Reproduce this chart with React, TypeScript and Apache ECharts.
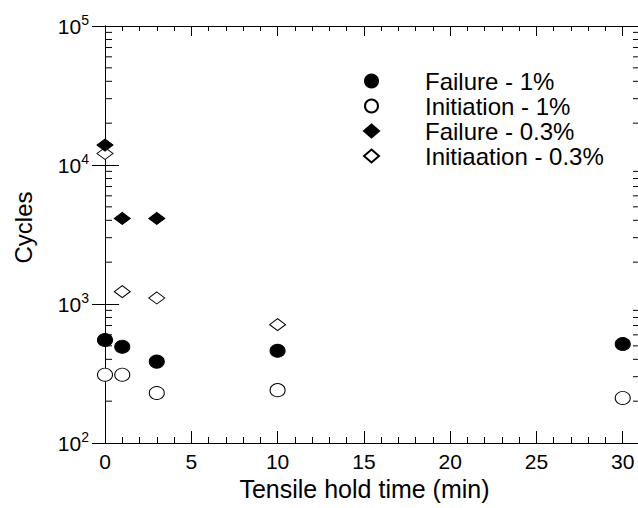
import React, { useEffect, useRef } from "react";
import * as echarts from "echarts";

// ---- data ----
const seriesNames = ["Failure - 1%", "Initiation - 1%", "Failure - 0.3%", "Initiaation - 0.3%"];

const timeFailure1 = [0, 1, 3, 10, 30];
const cyclesFailure1 = [551, 493, 385, 461, 515];

const timeInit1 = [0, 1, 3, 10, 30];
const cyclesInit1 = [310, 310, 229, 240, 211];

const timeFailure03 = [0, 1, 3];
const cyclesFailure03 = [13900, 4130, 4130];

const timeInit03 = [0, 1, 3, 10];
const cyclesInit03 = [12100, 1227, 1105, 710];

// minor tick positions of the log axis (2..9 in each decade)
const yMinorTicks = [
  200, 300, 400, 500, 600, 700, 800, 900,
  2000, 3000, 4000, 5000, 6000, 7000, 8000, 9000,
  20000, 30000, 40000, 50000, 60000, 70000, 80000, 90000,
];

const X_MIN = 0;
const X_MAX = 31;

const FONT = "'Liberation Sans', Arial, Helvetica, sans-serif";

function pairs(xs: number[], ys: number[]) {
  return xs.map((x, i) => [x, ys[i]]);
}

export default function App() {
  const ref = useRef<HTMLDivElement>(null);

  useEffect(() => {
    document.body.style.margin = "0";
    document.body.style.overflow = "hidden";
    if (!ref.current) return;
    const chart = echarts.init(ref.current, null, { renderer: "svg" });

    const xCommon = {
      type: "value" as const,
      min: X_MIN,
      max: X_MAX,
      interval: 5,
      splitLine: { show: false },
      axisLine: { show: true, lineStyle: { color: "#000", width: 1 } },
    };
    const yCommon = {
      type: "log" as const,
      logBase: 10,
      min: 100,
      max: 100000,
      splitLine: { show: false },
    };

    // minor ticks of the log axes drawn as short marks at the frame edges
    const minorTickSeries = (x: number, dir: number) => ({
      type: "scatter" as const,
      silent: true,
      symbol: "rect",
      symbolSize: [7, 1],
      symbolOffset: [3.5 * dir, 0],
      z: 1,
      clip: false,
      itemStyle: { color: "#000", opacity: 1 },
      data: yMinorTicks.map((v) => [x, v]),
    });

    chart.setOption({
      animation: false,
      backgroundColor: "#fff",
      textStyle: { fontFamily: FONT },
      grid: {
        left: 105,
        top: 26,
        width: 535,
        height: 417,
        outerBoundsMode: "none",
        containLabel: false,
      },
      legend: {
        orient: "vertical",
        left: 358,
        top: 64,
        itemWidth: 15,
        itemHeight: 13,
        itemGap: 1,
        data: seriesNames,
        textStyle: {
          fontSize: 24,
          color: "#000",
          lineHeight: 24,
          fontFamily: FONT,
          padding: [0, 0, 0, 41],
        },
        selectedMode: false,
      },
      xAxis: [
        {
          ...xCommon,
          position: "bottom",
          name: "Tensile hold time (min)",
          nameLocation: "middle",
          nameGap: 31,
          nameTextStyle: { fontSize: 25, color: "#000", fontFamily: FONT, padding: [0, 16, 0, 0] },
          axisTick: { show: true, inside: true, length: 12, lineStyle: { color: "#000" } },
          minorTick: { show: true, splitNumber: 5, length: 6, lineStyle: { color: "#000" } },
          axisLabel: { fontSize: 21, color: "#000", margin: 8, showMaxLabel: false, fontFamily: FONT },
        },
        {
          ...xCommon,
          position: "top",
          axisTick: { show: true, inside: true, length: 10, lineStyle: { color: "#000" } },
          minorTick: { show: true, splitNumber: 5, length: 5, lineStyle: { color: "#000" } },
          axisLabel: { show: false },
        },
      ],
      yAxis: [
        {
          ...yCommon,
          position: "left",
          name: "Cycles",
          nameLocation: "middle",
          nameGap: 70,
          nameTextStyle: { fontSize: 24, color: "#000", fontFamily: FONT, padding: [0, 0, 0, 14] },
          axisLine: { show: true, lineStyle: { color: "#000", width: 1 } },
          axisTick: { show: true, inside: true, length: 14, lineStyle: { color: "#000" } },
          axisLabel: {
            margin: 16,
            formatter: (v: number) => `{b|10}{s|${Math.round(Math.log10(v))}}`,
            rich: {
              b: { fontSize: 21, color: "#000", fontFamily: FONT },
              s: { fontSize: 14, color: "#000", fontFamily: FONT, padding: [0, 0, 13, 0] },
            },
          },
        },
        {
          ...yCommon,
          position: "right",
          axisLine: { show: true, lineStyle: { color: "#000", width: 1 } },
          axisTick: { show: true, inside: true, length: 13, lineStyle: { color: "#000" } },
          axisLabel: { show: false },
        },
      ],
      series: [
        minorTickSeries(X_MIN, 1),
        minorTickSeries(X_MAX, -1),
        {
          name: seriesNames[0],
          type: "scatter",
          symbol: "circle",
          symbolSize: [15, 13],
          z: 4,
          itemStyle: { color: "#000", borderColor: "#000", borderWidth: 1, opacity: 1 },
          data: pairs(timeFailure1, cyclesFailure1),
        },
        {
          name: seriesNames[1],
          type: "scatter",
          symbol: "circle",
          symbolSize: [15, 13],
          z: 3,
          itemStyle: { color: "#fff", borderColor: "#000", borderWidth: 1, opacity: 1 },
          data: pairs(timeInit1, cyclesInit1),
        },
        {
          name: seriesNames[2],
          type: "scatter",
          symbol: "diamond",
          symbolSize: [16, 12],
          z: 4,
          itemStyle: { color: "#000", borderColor: "#000", borderWidth: 1, opacity: 1 },
          data: pairs(timeFailure03, cyclesFailure03),
        },
        {
          name: seriesNames[3],
          type: "scatter",
          symbol: "diamond",
          symbolSize: [16, 12],
          z: 3,
          itemStyle: { color: "#fff", borderColor: "#000", borderWidth: 1, opacity: 1 },
          data: pairs(timeInit03, cyclesInit03),
        },
      ],
    });

    return () => chart.dispose();
  }, []);

  return <div ref={ref} style={{ width: 638, height: 508 }} />;
}
